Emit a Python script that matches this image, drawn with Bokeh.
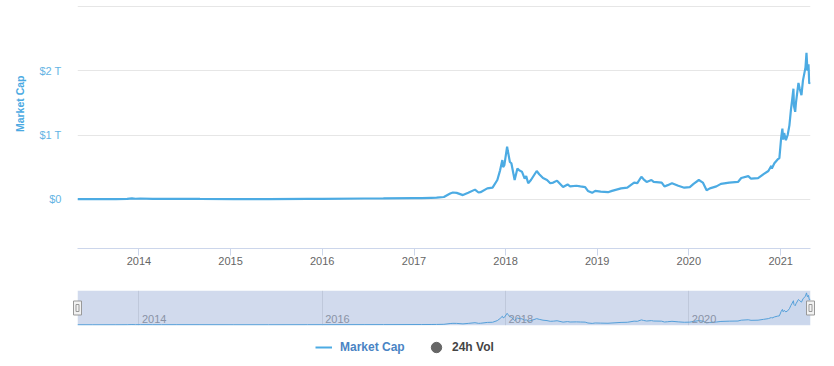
import pandas as pd
from bokeh.plotting import figure
from bokeh.models import (Range1d, FixedTicker, DatetimeTickFormatter, Title, Legend,
                          LegendItem, BoxAnnotation, Grid, ColumnDataSource)
from bokeh.layouts import column
from bokeh.embed import file_html
from bokeh.resources import INLINE
from bokeh.core.properties import value

# ---------------- data (total crypto market cap, trillions USD) ----------------
dates = [
    "2013-05-01", "2013-07-01", "2013-10-01", "2013-11-15", "2013-12-04", "2013-12-18",
    "2014-01-06", "2014-02-25", "2014-04-01", "2014-06-01", "2014-09-01", "2015-01-14",
    "2015-06-01", "2015-11-04", "2016-01-01", "2016-06-16", "2016-09-01", "2017-01-01",
    "2017-02-01", "2017-03-10", "2017-04-01", "2017-04-30", "2017-05-25", "2017-06-05",
    "2017-06-20", "2017-07-15", "2017-08-05", "2017-09-01", "2017-09-15", "2017-09-23",
    "2017-10-20", "2017-11-10", "2017-11-29", "2017-12-10", "2017-12-19", "2017-12-22",
    "2017-12-27", "2018-01-07", "2018-01-10", "2018-01-18", "2018-01-24", "2018-02-06",
    "2018-02-17", "2018-02-24", "2018-03-07", "2018-03-18", "2018-03-24", "2018-04-01",
    "2018-04-12", "2018-05-05", "2018-05-15", "2018-05-30", "2018-06-15", "2018-06-28",
    "2018-07-10", "2018-07-25", "2018-08-18", "2018-09-05", "2018-09-15", "2018-10-10",
    "2018-10-26", "2018-11-14", "2018-11-25", "2018-12-12", "2018-12-24", "2019-01-15",
    "2019-02-13", "2019-03-01", "2019-04-06", "2019-05-01", "2019-05-28", "2019-06-10",
    "2019-06-26", "2019-07-05", "2019-07-17", "2019-08-05", "2019-08-14", "2019-09-15",
    "2019-09-26", "2019-10-09", "2019-10-26", "2019-11-20", "2019-12-14", "2020-01-05",
    "2020-01-20", "2020-02-10", "2020-02-26", "2020-03-12", "2020-03-25", "2020-04-20",
    "2020-05-08", "2020-06-10", "2020-07-15", "2020-07-28", "2020-08-25", "2020-09-05",
    "2020-10-03", "2020-10-25", "2020-11-13", "2020-11-25", "2020-11-27", "2020-12-07",
    "2020-12-20", "2020-12-27", "2021-01-03", "2021-01-08", "2021-01-11", "2021-01-15",
    "2021-01-22", "2021-01-29", "2021-02-05", "2021-02-11", "2021-02-16", "2021-02-21",
    "2021-02-23", "2021-02-28", "2021-03-03", "2021-03-13", "2021-03-18", "2021-03-25",
    "2021-03-31", "2021-04-07", "2021-04-10", "2021-04-14", "2021-04-18", "2021-04-22",
    "2021-04-25", "2021-04-30",
]
market_cap = [
    0.0015, 0.0012, 0.0017, 0.005, 0.015, 0.008,
    0.012, 0.007, 0.006, 0.008, 0.006, 0.0035,
    0.0035, 0.006, 0.007, 0.012, 0.0125, 0.018,
    0.017, 0.022, 0.025, 0.035, 0.09, 0.105,
    0.10, 0.065, 0.10, 0.15, 0.105, 0.11,
    0.17, 0.18, 0.30, 0.45, 0.61, 0.50,
    0.53, 0.82, 0.75, 0.58, 0.56, 0.30,
    0.48, 0.45, 0.43, 0.32, 0.36, 0.25,
    0.30, 0.44, 0.39, 0.33, 0.30, 0.25,
    0.26, 0.29, 0.19, 0.23, 0.20, 0.21,
    0.20, 0.19, 0.13, 0.10, 0.13, 0.12,
    0.11, 0.13, 0.17, 0.18, 0.26, 0.25,
    0.35, 0.31, 0.27, 0.30, 0.27, 0.26,
    0.20, 0.22, 0.25, 0.21, 0.18, 0.19,
    0.24, 0.30, 0.26, 0.14, 0.17, 0.20,
    0.24, 0.26, 0.27, 0.33, 0.36, 0.32,
    0.33, 0.39, 0.44, 0.52, 0.48, 0.56,
    0.62, 0.64, 0.95, 1.10, 0.93, 1.03,
    0.92, 1.00, 1.15, 1.39, 1.55, 1.72,
    1.45, 1.36, 1.50, 1.81, 1.72, 1.62,
    1.85, 1.99, 2.05, 2.28, 2.00, 2.10,
    1.80, 1.82,
]

x_start, x_end = "2013-05-01", "2021-04-30"
main_years = [2014, 2015, 2016, 2017, 2018, 2019, 2020, 2021]
nav_years = [2014, 2016, 2018, 2020]
nav_year_labels = ["2014", "2016", "2018", "2020"]
y_ticks = [0, 1, 2, 3]
y_tick_labels = ["$0", "$1 T", "$2 T", ""]
series_name = "Market Cap"
vol_name = "24h Vol"

# ---------------- styles ----------------
FONT = "Liberation Sans"
LINE = "#4cabe3"
W = 834
BL, BR = 77, 24


def ms(d):
    return pd.Timestamp(d).value / 1e6


src = ColumnDataSource(dict(x=pd.to_datetime(dates), y=market_cap))
xr = Range1d(start=ms(x_start), end=ms(x_end))

# ---------------- main chart ----------------
p = figure(width=W, height=280, x_axis_type="datetime", x_range=xr,
           y_range=Range1d(-0.766, 3.015), output_backend="svg", toolbar_location=None,
           min_border_left=BL, min_border_right=BR, min_border_top=5, min_border_bottom=32)
p.outline_line_color = None
p.line("x", "y", source=src, line_width=2.2, color=LINE)

p.xaxis.ticker = FixedTicker(ticks=[ms(f"{y}-01-01") for y in main_years])
p.xaxis.formatter = DatetimeTickFormatter(days="%Y", months="%Y", years="%Y")
p.xaxis.axis_line_color = "#ccd6eb"
p.xaxis.major_tick_line_color = "#ccd6eb"
p.xaxis.major_tick_out = 7
p.xaxis.major_tick_in = 0
p.xaxis.minor_tick_line_color = None
p.xaxis.major_label_standoff = 1
p.xaxis.major_label_text_font = FONT
p.xaxis.major_label_text_font_size = "11px"
p.xaxis.major_label_text_color = "#666666"
p.xgrid.grid_line_color = None

p.yaxis.ticker = FixedTicker(ticks=y_ticks)
p.yaxis.major_label_overrides = {t: l for t, l in zip(y_ticks, y_tick_labels)}
p.yaxis.axis_line_color = None
p.yaxis.major_tick_line_color = None
p.yaxis.major_tick_out = 0
p.yaxis.major_tick_in = 0
p.yaxis.minor_tick_line_color = None
p.yaxis.major_label_standoff = 16
p.yaxis.major_label_text_font = FONT
p.yaxis.major_label_text_font_size = "11px"
p.yaxis.major_label_text_color = "#64b4e4"
p.ygrid.grid_line_color = "#e6e6e6"

p.add_layout(Title(text=series_name, align="right", offset=70, standoff=18,
                   vertical_align="top",
                   text_font=FONT, text_font_style="bold", text_font_size="10.5px",
                   text_color="#4aa9e2"), "left")

# ---------------- navigator ----------------
nav_y0, nav_y1 = -0.05, 2.45
nav = figure(width=W, height=52, x_range=xr, y_range=Range1d(nav_y0, nav_y1),
             x_axis_location=None, y_axis_location=None, output_backend="svg",
             toolbar_location=None, min_border_left=BL, min_border_right=BR,
             min_border_top=10, min_border_bottom=7)
nav.outline_line_color = None
nav.xgrid.grid_line_color = None
nav.ygrid.grid_line_color = None
nav.add_layout(Grid(dimension=0, ticker=FixedTicker(ticks=[ms(f"{y}-01-01") for y in nav_years]),
                    grid_line_color="#e6e6e6"))
nav.varea(x="x", y1=0, y2="y", source=src, fill_color=LINE, fill_alpha=0.05)
nav.line("x", "y", source=src, line_width=1, color=LINE)
nav.text(x=[ms(f"{y}-01-01") for y in nav_years], y=[nav_y0] * len(nav_years),
         text=nav_year_labels, x_offset=3, y_offset=-3, text_baseline="bottom",
         text_align="left", text_font=value(FONT), text_font_size="11px",
         text_color="#999999")
nav.add_layout(BoxAnnotation(fill_color="#6685c2", fill_alpha=0.3, line_color=None))
mid = (nav_y0 + nav_y1) / 2
nav.rect(x=[ms(x_start), ms(x_end)], y=[mid, mid], width=8, height=14,
         width_units="screen", height_units="screen", fill_color="#f2f2f2",
         line_color="#999999", level="overlay")
nav.rect(x=[ms(x_start), ms(x_end)], y=[mid, mid], width=3, height=7,
         width_units="screen", height_units="screen", fill_color=None,
         line_color="#999999", level="overlay")

# ---------------- legend ----------------
leg = figure(width=W, height=30, x_range=Range1d(0, 1), y_range=Range1d(0, 1),
             x_axis_location=None, y_axis_location=None, output_backend="svg",
             toolbar_location=None, min_border_left=BL, min_border_right=BR,
             min_border_top=0, min_border_bottom=0)
leg.outline_line_color = None
leg.xgrid.grid_line_color = None
leg.ygrid.grid_line_color = None
# legend proxies: real series drawn outside this strip's ranges
r1 = leg.line("x", "y", source=src, color=LINE, line_width=2)
r2 = leg.scatter("x", "y", source=src, size=11, color="#666666")
l1 = Legend(items=[LegendItem(label=series_name, renderers=[r1], index=0)], location=(238, 8),
            background_fill_alpha=0, border_line_color=None, padding=0, margin=0,
            glyph_width=17, glyph_height=14, label_height=14, label_standoff=8,
            label_text_font=FONT, label_text_font_size="12px",
            label_text_font_style="bold", label_text_color="#4a84c4")
l2 = Legend(items=[LegendItem(label=vol_name, renderers=[r2], index=0)], location=(346, 2),
            background_fill_alpha=0, border_line_color=None, padding=0, margin=0,
            glyph_width=26, glyph_height=26, label_height=14, label_standoff=3,
            label_text_font=FONT, label_text_font_size="12px",
            label_text_font_style="bold", label_text_color="#444444")
leg.add_layout(l1)
leg.add_layout(l2)

layout = column(p, nav, leg)
open("out.html", "w").write(file_html(layout, INLINE))
